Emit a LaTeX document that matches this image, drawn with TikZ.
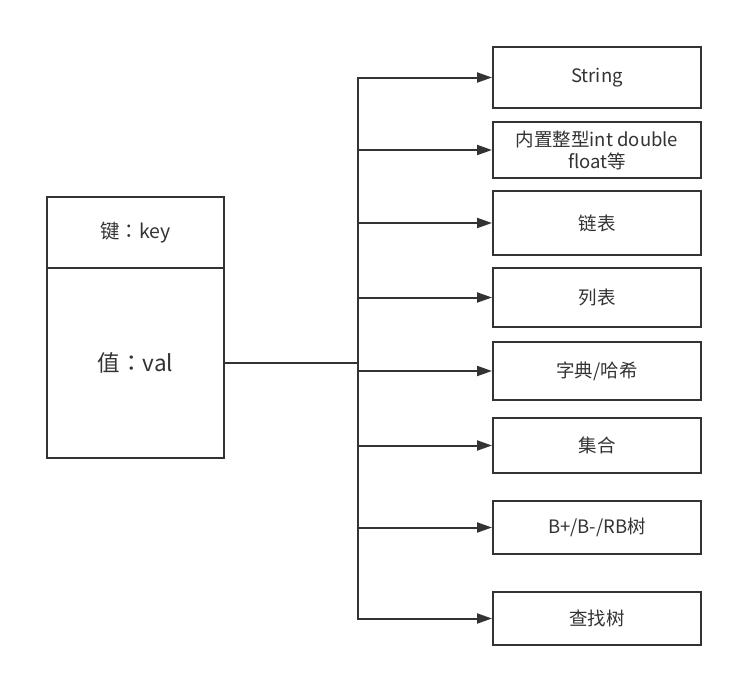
\documentclass[tikz,border=0pt]{standalone}
\usepackage{fontspec}
\setmainfont{Noto Sans CJK SC}
\newfontfamily\tcfont{Noto Sans CJK TC}
\usetikzlibrary{arrows.meta}
\definecolor{ink}{HTML}{333333}
\begin{document}
\begin{tikzpicture}[x=1pt, y=-1pt, line width=2pt, text=ink,
    cell/.style={draw=ink, minimum width=177pt, inner sep=0pt},
    typebox/.style={draw=ink, minimum width=208pt, inner sep=0pt, align=center,
        font=\fontsize{18.5}{22}\selectfont},
    link/.style={draw=ink, -{Triangle[length=15pt,width=10pt]}}]
    \useasboundingbox (0,0) rectangle (733,677);
    %\draw[gray, dashed] (0,0) grid[step=50] (733,677);

    % key / value pair
    \node[cell, minimum height=71pt, font=\fontsize{19.5}{23}\selectfont] (key) at (135.5,232.5) {键{\tcfont ：}key};
    \node[cell, minimum height=190pt, font=\fontsize{22.5}{26}\selectfont] (val) at (135.5,363) {值{\tcfont ：}val};

    % value types
    \node[typebox, minimum height=61pt] (b1) at (597,77.5) {String};
    \node[typebox, minimum height=56pt] (b2) at (597,150) {内置整型int double\\float等};
    \node[typebox, minimum height=64pt] (b3) at (597,223) {链表};
    \node[typebox, minimum height=59pt] (b4) at (597,297.5) {列表};
    \node[typebox, minimum height=58pt] (b5) at (597,371) {字典/哈希};
    \node[typebox, minimum height=55pt] (b6) at (597,445.5) {集合};
    \node[typebox, minimum height=53pt] (b7) at (597,527.5) {B+/B-/RB树};
    \node[typebox, minimum height=53pt] (b8) at (597,618.5) {查找树};

    \coordinate (junc) at (358,363);
    \draw[ink] (val.east) -- (junc);
    \foreach \i in {1,...,8}
        \draw[link] (junc) |- (b\i.west);
\end{tikzpicture}
\end{document}
